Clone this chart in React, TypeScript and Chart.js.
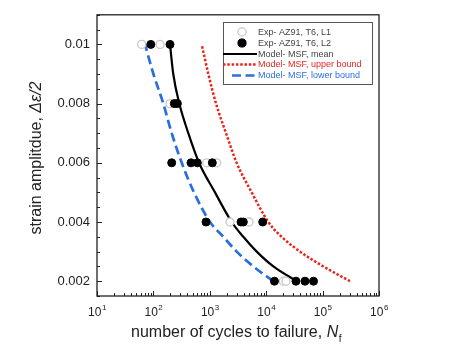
import React, { useEffect, useRef } from 'react';
import { Chart, registerables } from 'chart.js';
Chart.register(...registerables);

const FONT = "'Liberation Sans', Arial, Helvetica, sans-serif";

// Model curves (strain amplitude vs. cycles to failure)
const modelStrain = [0.01, 0.009, 0.008, 0.007, 0.006, 0.005, 0.004, 0.0035, 0.003, 0.0025, 0.002];
const meanCycles = [197, 225, 288, 416, 644, 1236, 2445, 3925, 6790, 13400, 34700];
const upperCycles = [718, 942, 1290, 1940, 2990, 5530, 10900, 18700, 39800, 103000, 306000];
const lowerCycles = [71, 100, 150, 211, 318, 525, 1010, 1735, 3000, 5900, 13400];

// Experimental data
const l1Strain = [0.01, 0.01, 0.008, 0.006, 0.006, 0.004, 0.004, 0.002, 0.002];
const l1Cycles = [62, 131, 197, 881, 1325, 2280, 4955, 20100, 22400];
const l2Strain = [0.01, 0.01, 0.008, 0.008, 0.006, 0.006, 0.006, 0.006, 0.004, 0.004, 0.004, 0.004, 0.002, 0.002, 0.002, 0.002];
const l2Cycles = [90, 197, 235, 266, 211, 464, 601, 1108, 857, 3575, 3930, 8670, 14000, 33700, 48700, 69000];

const xTickExponents = [1, 2, 3, 4, 5, 6];
const yTickValues = [0.002, 0.004, 0.006, 0.008, 0.01];
const yTickLabels = ['0.002', '0.004', '0.006', '0.008', '0.01'];
const yMinorStep = 0.0005;
const legendLabels = [
  'Exp- AZ91, T6, L1',
  'Exp- AZ91, T6, L2',
  'Model- MSF, mean',
  'Model- MSF, upper bound',
  'Model- MSF, lower bound',
];
const xTitle = 'number of cycles to failure, ';
const yTitle = 'strain amplitdue, ';

const RED = '#e8241e';
const BLUE = '#2b6fdc';
const INK = '#222';

const decorPlugin = {
  id: 'decor',
  afterDraw(chart: any) {
    const { ctx, chartArea: a, scales } = chart;
    const xs = scales.x;
    const ys = scales.y;
    ctx.save();
    // frame
    ctx.strokeStyle = INK;
    ctx.lineWidth = 1.3;
    ctx.strokeRect(a.left, a.top, a.right - a.left, a.bottom - a.top);
    // x ticks (inward)
    ctx.lineWidth = 1;
    ctx.beginPath();
    for (let e = 1; e <= 6; e++) {
      for (let m = 1; m <= 9; m++) {
        const v = m * Math.pow(10, e);
        if (v > 1e6) break;
        const px = Math.round(xs.getPixelForValue(v)) + 0.5;
        const len = m === 1 ? 5 : 3;
        ctx.moveTo(px, a.bottom);
        ctx.lineTo(px, a.bottom - len);
      }
    }
    // y ticks (inward)
    for (let v = 0.0015; v <= 0.011 + 1e-9; v += yMinorStep) {
      const major = yTickValues.some((t) => Math.abs(t - v) < 1e-9);
      const py = Math.round(ys.getPixelForValue(v)) + 0.5;
      ctx.moveTo(a.left, py);
      ctx.lineTo(a.left + (major ? 5 : 3), py);
    }
    ctx.stroke();

    // x tick labels 10^n
    ctx.fillStyle = INK;
    ctx.textBaseline = 'middle';
    for (const e of xTickExponents) {
      const px = xs.getPixelForValue(Math.pow(10, e));
      ctx.font = `12px ${FONT}`;
      const w1 = ctx.measureText('10').width;
      ctx.font = `8px ${FONT}`;
      const w2 = ctx.measureText(String(e)).width;
      const x0 = px - (w1 + w2) / 2;
      ctx.font = `12px ${FONT}`;
      ctx.textAlign = 'left';
      ctx.fillText('10', x0, 313);
      ctx.font = `8px ${FONT}`;
      ctx.fillText(String(e), x0 + w1 + 0.5, 308);
    }

    // x title
    {
      ctx.font = `16px ${FONT}`;
      const w1 = ctx.measureText(xTitle).width;
      ctx.font = `italic 16px ${FONT}`;
      const w2 = ctx.measureText('N').width;
      ctx.font = `10px ${FONT}`;
      const w3 = ctx.measureText('f').width;
      const cx = (a.left + a.right) / 2 - 2;
      let x = cx - (w1 + w2 + w3) / 2;
      ctx.textAlign = 'left';
      ctx.font = `16px ${FONT}`;
      ctx.fillText(xTitle, x, 333);
      x += w1;
      ctx.font = `italic 16px ${FONT}`;
      ctx.fillText('N', x, 333);
      x += w2;
      ctx.font = `10px ${FONT}`;
      ctx.fillText('f', x + 0.5, 339);
    }

    // y title
    {
      ctx.save();
      ctx.translate(37, 158);
      ctx.rotate(-Math.PI / 2);
      ctx.font = `16px ${FONT}`;
      const w1 = ctx.measureText(yTitle).width;
      ctx.font = `italic 16px ${FONT}`;
      const w2 = ctx.measureText('\u0394\u03b5/2').width;
      let x = -(w1 + w2) / 2;
      ctx.textAlign = 'left';
      ctx.font = `16px ${FONT}`;
      ctx.fillText(yTitle, x, 0);
      x += w1;
      ctx.font = `italic 16px ${FONT}`;
      ctx.fillText('\u0394\u03b5/2', x, 0);
      ctx.restore();
    }

    // legend
    {
      const ds = chart.data.datasets;
      const bx = 223, by = 22, bw = 149, bh = 62;
      ctx.fillStyle = '#fff';
      ctx.fillRect(bx, by, bw, bh);
      ctx.strokeStyle = '#555';
      ctx.lineWidth = 1;
      ctx.strokeRect(bx + 0.5, by + 0.5, bw, bh);
      const rows = [32, 43, 54, 64.5, 75.5];
      const textColors = ['#444', '#444', '#444', RED, BLUE];
      const order = [1, 0, 2, 3, 4]; // dataset index for each legend row
      rows.forEach((ry, i) => {
        const d = ds[order[i]];
        if (i < 2) {
          ctx.beginPath();
          ctx.arc(242, ry, 4.1, 0, Math.PI * 2);
          ctx.fillStyle = d.pointBackgroundColor;
          ctx.fill();
          ctx.lineWidth = d.pointBorderWidth;
          ctx.strokeStyle = d.pointBorderColor;
          ctx.stroke();
        } else {
          ctx.beginPath();
          ctx.setLineDash(d.borderDash || []);
          ctx.lineWidth = d.borderWidth;
          ctx.strokeStyle = d.borderColor;
          const sx = i === 4 ? 232 : 223;
          const ex = i === 4 ? 255 : 257;
          ctx.moveTo(sx, ry);
          ctx.lineTo(ex, ry);
          ctx.stroke();
          ctx.setLineDash([]);
        }
        ctx.font = `9px ${FONT}`;
        ctx.fillStyle = textColors[i];
        ctx.textAlign = 'left';
        ctx.textBaseline = 'middle';
        ctx.fillText(legendLabels[i], 258, ry + 0.5);
      });
    }
    ctx.restore();
  },
};

export default function App() {
  const ref = useRef<HTMLCanvasElement>(null);
  useEffect(() => {
    const canvas = ref.current!;
    const toPts = (xs: number[], ys: number[]) => xs.map((x, i) => ({ x, y: ys[i] }));
    const chart = new Chart(canvas, {
      type: 'scatter',
      data: {
        datasets: [
          {
            label: legendLabels[1],
            data: toPts(l2Cycles, l2Strain),
            pointRadius: 4,
            pointBackgroundColor: '#000',
            pointBorderColor: '#000',
            pointBorderWidth: 1,
            showLine: false,
            order: 0,
          },
          {
            label: legendLabels[0],
            data: toPts(l1Cycles, l1Strain),
            pointRadius: 4,
            pointBackgroundColor: '#fff',
            pointBorderColor: '#c8c8c8',
            pointBorderWidth: 1.3,
            showLine: false,
            order: 1,
          },
          {
            label: legendLabels[2],
            data: toPts(meanCycles, modelStrain).reverse(),
            showLine: true,
            borderColor: '#000',
            borderWidth: 2.2,
            pointRadius: 0,
            cubicInterpolationMode: 'monotone',
            order: 2,
          },
          {
            label: legendLabels[3],
            data: toPts(upperCycles, modelStrain).reverse(),
            showLine: true,
            borderColor: RED,
            borderWidth: 2.5,
            borderDash: [2.5, 1.8],
            pointRadius: 0,
            cubicInterpolationMode: 'monotone',
            order: 3,
          },
          {
            label: legendLabels[4],
            data: toPts(lowerCycles, modelStrain).reverse(),
            showLine: true,
            borderColor: BLUE,
            borderWidth: 2.7,
            borderDash: [9, 4.5],
            pointRadius: 0,
            cubicInterpolationMode: 'monotone',
            order: 4,
          },
        ] as any,
      },
      options: {
        responsive: false,
        animation: false,
        devicePixelRatio: 1,
        layout: { padding: { top: 14, right: 79, left: 0, bottom: 0 } },
        plugins: { legend: { display: false }, tooltip: { enabled: false } },
        events: [],
        scales: {
          x: {
            type: 'logarithmic',
            min: 10,
            max: 1e6,
            grid: { display: false, drawTicks: false },
            border: { display: false },
            ticks: { display: false },
            afterFit: (s: any) => {
              s.height = 57;
            },
          },
          y: {
            type: 'linear',
            min: 0.0015,
            max: 0.011,
            grid: { display: false, drawTicks: false },
            border: { display: false },
            afterBuildTicks: (s: any) => {
              s.ticks = yTickValues.map((v) => ({ value: v }));
            },
            ticks: {
              padding: 7,
              color: INK,
              font: { family: FONT, size: 13 },
              callback: (v: any) => {
                const i = yTickValues.findIndex((t) => Math.abs(t - Number(v)) < 1e-9);
                return i >= 0 ? yTickLabels[i] : '';
              },
            },
            afterFit: (s: any) => {
              s.width = 97;
            },
          },
        },
      } as any,
      plugins: [decorPlugin],
    });
    return () => chart.destroy();
  }, []);
  return (
    <div style={{ position: 'absolute', left: 0, top: 0, width: 458, height: 353, background: '#fff' }}>
      <canvas ref={ref} width={458} height={353} style={{ width: 458, height: 353, display: 'block' }} />
    </div>
  );
}
